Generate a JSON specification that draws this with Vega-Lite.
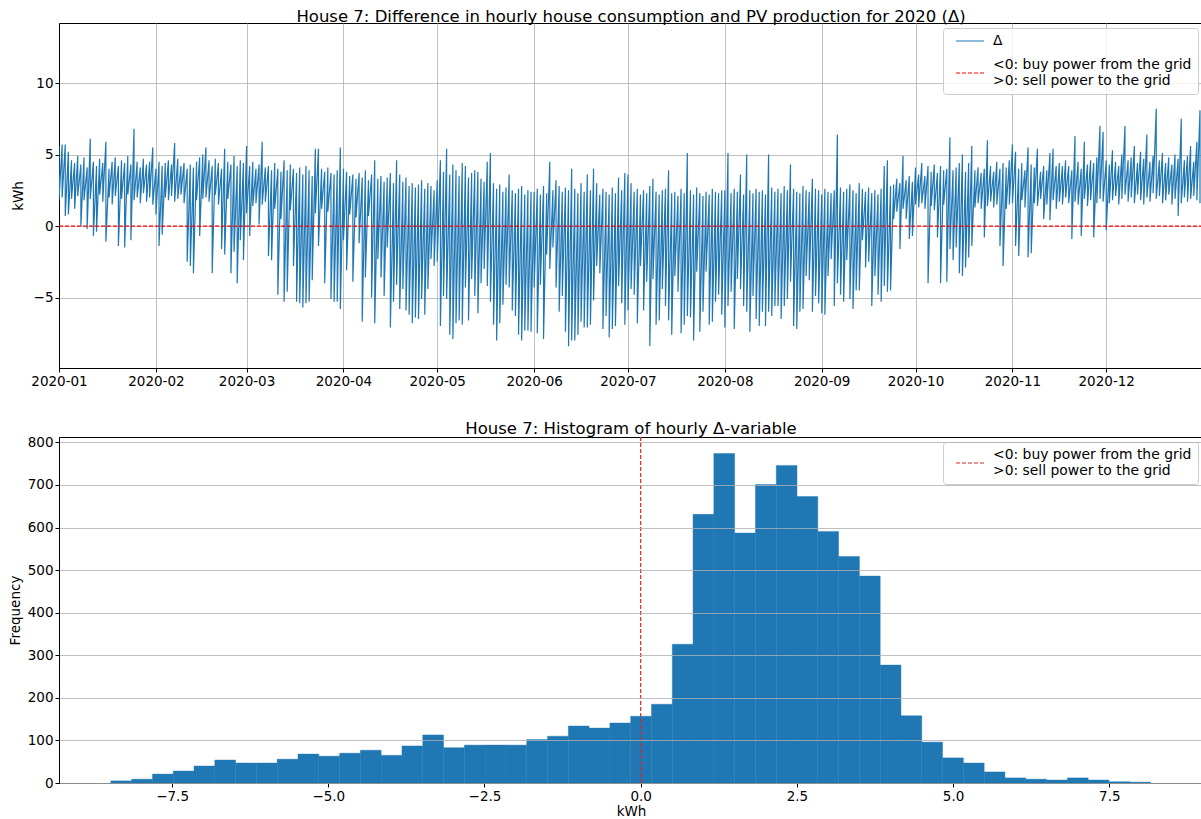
{
"$schema": "https://vega.github.io/schema/vega-lite/v6.json",
"background": "white",
"padding": {"left": 7, "top": 8, "right": 0, "bottom": 0},
"spacing": 69,
"bounds": "flush",
"resolve": {"scale": {"color": "independent"}, "legend": {"color": "independent"}},
"vconcat": [
{
"width": 1144, "height": 345,
"title": {"text": "House 7: Difference in hourly house consumption and PV production for 2020 (Δ)"},
"layer": [
{
"data": {"values": [
{"d":"2020/01/01","h":5.6,"l":1.8},{"d":"2020/01/02","h":5.7,"l":2.0},{"d":"2020/01/03","h":5.7,"l":0.7},{"d":"2020/01/04","h":5.2,"l":0.8},{"d":"2020/01/05","h":4.6,"l":1.9},{"d":"2020/01/06","h":4.4,"l":1.2},{"d":"2020/01/07","h":4.9,"l":2.1},{"d":"2020/01/08","h":4.3,"l":0.0},{"d":"2020/01/09","h":4.8,"l":1.8},{"d":"2020/01/10","h":4.1,"l":-0.2},{"d":"2020/01/11","h":6.1,"l":1.9},{"d":"2020/01/12","h":4.5,"l":-0.7},{"d":"2020/01/13","h":4.2,"l":-0.4},{"d":"2020/01/14","h":4.7,"l":2.2},{"d":"2020/01/15","h":4.4,"l":1.7},{"d":"2020/01/16","h":5.9,"l":-1.1},{"d":"2020/01/17","h":4.0,"l":2.0},{"d":"2020/01/18","h":4.5,"l":1.5},{"d":"2020/01/19","h":4.8,"l":2.1},{"d":"2020/01/20","h":4.2,"l":-1.4},{"d":"2020/01/21","h":4.6,"l":1.9},{"d":"2020/01/22","h":4.4,"l":-1.5},{"d":"2020/01/23","h":4.9,"l":2.2},{"d":"2020/01/24","h":4.3,"l":-1.0},{"d":"2020/01/25","h":6.8,"l":1.8},{"d":"2020/01/26","h":4.5,"l":2.0},{"d":"2020/01/27","h":4.1,"l":1.6},{"d":"2020/01/28","h":4.7,"l":2.3},{"d":"2020/01/29","h":4.3,"l":1.7},{"d":"2020/01/30","h":4.5,"l":2.0},{"d":"2020/01/31","h":5.5,"l":1.5},
{"d":"2020/02/01","h":4.0,"l":0.8},{"d":"2020/02/02","h":4.5,"l":-1.4},{"d":"2020/02/03","h":4.2,"l":-0.6},{"d":"2020/02/04","h":4.4,"l":2.0},{"d":"2020/02/05","h":4.6,"l":1.8},{"d":"2020/02/06","h":4.3,"l":2.1},{"d":"2020/02/07","h":5.8,"l":1.7},{"d":"2020/02/08","h":4.7,"l":1.9},{"d":"2020/02/09","h":4.2,"l":2.2},{"d":"2020/02/10","h":4.4,"l":1.6},{"d":"2020/02/11","h":4.0,"l":-2.5},{"d":"2020/02/12","h":4.3,"l":-2.8},{"d":"2020/02/13","h":4.1,"l":-3.3},{"d":"2020/02/14","h":4.5,"l":1.8},{"d":"2020/02/15","h":4.8,"l":-0.7},{"d":"2020/02/16","h":5.0,"l":1.9},{"d":"2020/02/17","h":5.5,"l":2.0},{"d":"2020/02/18","h":4.6,"l":1.7},{"d":"2020/02/19","h":4.2,"l":-3.3},{"d":"2020/02/20","h":4.7,"l":2.2},{"d":"2020/02/21","h":4.4,"l":1.5},{"d":"2020/02/22","h":4.0,"l":-1.6},{"d":"2020/02/23","h":5.4,"l":-2.0},{"d":"2020/02/24","h":4.5,"l":1.9},{"d":"2020/02/25","h":4.3,"l":-3.3},{"d":"2020/02/26","h":4.9,"l":-1.8},{"d":"2020/02/27","h":4.2,"l":-4.0},{"d":"2020/02/28","h":4.6,"l":-1.0},{"d":"2020/02/29","h":4.4,"l":-2.4},
{"d":"2020/03/01","h":5.6,"l":0.9},{"d":"2020/03/02","h":4.2,"l":-0.7},{"d":"2020/03/03","h":4.5,"l":1.4},{"d":"2020/03/04","h":4.0,"l":1.6},{"d":"2020/03/05","h":4.3,"l":0.1},{"d":"2020/03/06","h":5.9,"l":1.5},{"d":"2020/03/07","h":4.1,"l":1.7},{"d":"2020/03/08","h":4.2,"l":-2.1},{"d":"2020/03/09","h":3.9,"l":-2.4},{"d":"2020/03/10","h":4.4,"l":1.2},{"d":"2020/03/11","h":4.0,"l":-4.8},{"d":"2020/03/12","h":3.8,"l":0.5},{"d":"2020/03/13","h":4.6,"l":-5.3},{"d":"2020/03/14","h":3.9,"l":-4.6},{"d":"2020/03/15","h":4.3,"l":1.1},{"d":"2020/03/16","h":4.0,"l":-2.8},{"d":"2020/03/17","h":3.7,"l":-5.3},{"d":"2020/03/18","h":4.1,"l":-5.4},{"d":"2020/03/19","h":3.6,"l":-5.7},{"d":"2020/03/20","h":4.2,"l":-5.4},{"d":"2020/03/21","h":3.9,"l":-5.3},{"d":"2020/03/22","h":3.5,"l":-3.8},{"d":"2020/03/23","h":5.4,"l":0.9},{"d":"2020/03/24","h":5.4,"l":-1.4},{"d":"2020/03/25","h":4.0,"l":1.2},{"d":"2020/03/26","h":3.8,"l":-4.0},{"d":"2020/03/27","h":4.1,"l":1.0},{"d":"2020/03/28","h":3.7,"l":-5.1},{"d":"2020/03/29","h":3.6,"l":-5.3},{"d":"2020/03/30","h":3.9,"l":-5.3},{"d":"2020/03/31","h":5.5,"l":-5.8},
{"d":"2020/04/01","h":4.0,"l":-1.0},{"d":"2020/04/02","h":3.8,"l":-3.1},{"d":"2020/04/03","h":3.5,"l":0.8},{"d":"2020/04/04","h":3.6,"l":-3.9},{"d":"2020/04/05","h":3.3,"l":0.6},{"d":"2020/04/06","h":3.7,"l":-1.2},{"d":"2020/04/07","h":3.4,"l":-6.7},{"d":"2020/04/08","h":3.9,"l":-3.6},{"d":"2020/04/09","h":3.2,"l":0.7},{"d":"2020/04/10","h":3.6,"l":-5.0},{"d":"2020/04/11","h":4.6,"l":-6.8},{"d":"2020/04/12","h":3.3,"l":-2.3},{"d":"2020/04/13","h":3.5,"l":-3.6},{"d":"2020/04/14","h":3.1,"l":-4.9},{"d":"2020/04/15","h":3.4,"l":-1.5},{"d":"2020/04/16","h":3.7,"l":-7.1},{"d":"2020/04/17","h":3.0,"l":-5.3},{"d":"2020/04/18","h":4.6,"l":-4.1},{"d":"2020/04/19","h":3.6,"l":-5.8},{"d":"2020/04/20","h":3.1,"l":-4.4},{"d":"2020/04/21","h":3.4,"l":-5.9},{"d":"2020/04/22","h":2.8,"l":-6.2},{"d":"2020/04/23","h":3.0,"l":-6.8},{"d":"2020/04/24","h":2.7,"l":-6.4},{"d":"2020/04/25","h":2.9,"l":-6.5},{"d":"2020/04/26","h":3.2,"l":-5.1},{"d":"2020/04/27","h":2.6,"l":-6.2},{"d":"2020/04/28","h":3.0,"l":-4.4},{"d":"2020/04/29","h":2.8,"l":-2.3},{"d":"2020/04/30","h":2.5,"l":-2.8},
{"d":"2020/05/01","h":3.2,"l":-2.5},{"d":"2020/05/02","h":4.6,"l":-7.0},{"d":"2020/05/03","h":3.8,"l":-4.9},{"d":"2020/05/04","h":5.4,"l":-5.1},{"d":"2020/05/05","h":3.6,"l":-7.6},{"d":"2020/05/06","h":4.3,"l":-7.9},{"d":"2020/05/07","h":3.9,"l":-6.8},{"d":"2020/05/08","h":3.5,"l":-6.6},{"d":"2020/05/09","h":4.4,"l":-6.9},{"d":"2020/05/10","h":4.2,"l":-4.3},{"d":"2020/05/11","h":3.4,"l":-6.6},{"d":"2020/05/12","h":3.7,"l":-3.7},{"d":"2020/05/13","h":3.9,"l":-4.9},{"d":"2020/05/14","h":3.8,"l":-6.1},{"d":"2020/05/15","h":3.3,"l":-4.0},{"d":"2020/05/16","h":3.1,"l":-3.0},{"d":"2020/05/17","h":4.5,"l":-4.2},{"d":"2020/05/18","h":5.1,"l":-5.3},{"d":"2020/05/19","h":3.0,"l":-6.9},{"d":"2020/05/20","h":2.6,"l":-8.0},{"d":"2020/05/21","h":2.9,"l":-6.8},{"d":"2020/05/22","h":2.4,"l":-5.5},{"d":"2020/05/23","h":2.7,"l":-4.1},{"d":"2020/05/24","h":3.6,"l":-4.3},{"d":"2020/05/25","h":2.5,"l":-5.9},{"d":"2020/05/26","h":2.3,"l":-6.3},{"d":"2020/05/27","h":2.6,"l":-7.6},{"d":"2020/05/28","h":2.8,"l":-8.0},{"d":"2020/05/29","h":2.2,"l":-7.3},{"d":"2020/05/30","h":2.5,"l":-7.3},{"d":"2020/05/31","h":2.4,"l":-7.4},
{"d":"2020/06/01","h":2.4,"l":-4.3},{"d":"2020/06/02","h":2.6,"l":-7.5},{"d":"2020/06/03","h":2.2,"l":-4.1},{"d":"2020/06/04","h":2.8,"l":-7.9},{"d":"2020/06/05","h":2.3,"l":-2.0},{"d":"2020/06/06","h":4.5,"l":-3.0},{"d":"2020/06/07","h":2.5,"l":-1.5},{"d":"2020/06/08","h":3.2,"l":-4.3},{"d":"2020/06/09","h":2.8,"l":-6.0},{"d":"2020/06/10","h":2.4,"l":-4.9},{"d":"2020/06/11","h":2.7,"l":-7.4},{"d":"2020/06/12","h":2.5,"l":-8.4},{"d":"2020/06/13","h":4.0,"l":-8.0},{"d":"2020/06/14","h":2.6,"l":-8.0},{"d":"2020/06/15","h":2.3,"l":-7.6},{"d":"2020/06/16","h":3.0,"l":-6.7},{"d":"2020/06/17","h":2.4,"l":-7.1},{"d":"2020/06/18","h":3.6,"l":-7.1},{"d":"2020/06/19","h":2.5,"l":-6.9},{"d":"2020/06/20","h":4.0,"l":-5.2},{"d":"2020/06/21","h":3.0,"l":-2.8},{"d":"2020/06/22","h":2.2,"l":-3.3},{"d":"2020/06/23","h":2.6,"l":-7.2},{"d":"2020/06/24","h":2.4,"l":-6.3},{"d":"2020/06/25","h":2.2,"l":-7.8},{"d":"2020/06/26","h":2.7,"l":-7.2},{"d":"2020/06/27","h":2.3,"l":-7.0},{"d":"2020/06/28","h":3.4,"l":-4.2},{"d":"2020/06/29","h":2.5,"l":-5.4},{"d":"2020/06/30","h":3.7,"l":-6.9},
{"d":"2020/07/01","h":3.6,"l":-5.9},{"d":"2020/07/02","h":3.0,"l":-4.4},{"d":"2020/07/03","h":2.4,"l":-4.8},{"d":"2020/07/04","h":2.6,"l":-6.8},{"d":"2020/07/05","h":2.2,"l":-2.8},{"d":"2020/07/06","h":2.5,"l":-5.9},{"d":"2020/07/07","h":2.3,"l":-3.9},{"d":"2020/07/08","h":2.8,"l":-8.4},{"d":"2020/07/09","h":3.3,"l":-3.7},{"d":"2020/07/10","h":2.4,"l":-6.9},{"d":"2020/07/11","h":2.2,"l":-6.6},{"d":"2020/07/12","h":2.5,"l":-4.4},{"d":"2020/07/13","h":2.6,"l":-5.6},{"d":"2020/07/14","h":3.9,"l":-6.6},{"d":"2020/07/15","h":2.3,"l":-7.6},{"d":"2020/07/16","h":2.4,"l":-3.5},{"d":"2020/07/17","h":2.1,"l":-4.6},{"d":"2020/07/18","h":2.6,"l":-7.5},{"d":"2020/07/19","h":2.3,"l":-6.9},{"d":"2020/07/20","h":5.1,"l":-6.3},{"d":"2020/07/21","h":2.5,"l":-6.4},{"d":"2020/07/22","h":2.2,"l":-8.0},{"d":"2020/07/23","h":2.7,"l":-3.2},{"d":"2020/07/24","h":2.3,"l":-7.4},{"d":"2020/07/25","h":2.1,"l":-6.0},{"d":"2020/07/26","h":2.4,"l":-3.2},{"d":"2020/07/27","h":2.2,"l":-6.9},{"d":"2020/07/28","h":2.6,"l":-6.7},{"d":"2020/07/29","h":2.4,"l":-5.3},{"d":"2020/07/30","h":2.3,"l":-4.8},{"d":"2020/07/31","h":2.5,"l":-6.2},
{"d":"2020/08/01","h":2.5,"l":-7.1},{"d":"2020/08/02","h":5.1,"l":-5.6},{"d":"2020/08/03","h":2.3,"l":-4.6},{"d":"2020/08/04","h":2.6,"l":-7.2},{"d":"2020/08/05","h":2.4,"l":-3.7},{"d":"2020/08/06","h":3.6,"l":-4.4},{"d":"2020/08/07","h":2.2,"l":-5.6},{"d":"2020/08/08","h":5.0,"l":-6.0},{"d":"2020/08/09","h":2.5,"l":-7.4},{"d":"2020/08/10","h":2.3,"l":-4.9},{"d":"2020/08/11","h":2.6,"l":-6.5},{"d":"2020/08/12","h":2.4,"l":-7.0},{"d":"2020/08/13","h":2.5,"l":-6.0},{"d":"2020/08/14","h":2.2,"l":-7.0},{"d":"2020/08/15","h":5.0,"l":-6.0},{"d":"2020/08/16","h":2.7,"l":-6.3},{"d":"2020/08/17","h":2.4,"l":-5.6},{"d":"2020/08/18","h":2.6,"l":-5.6},{"d":"2020/08/19","h":2.3,"l":-6.5},{"d":"2020/08/20","h":2.8,"l":-5.6},{"d":"2020/08/21","h":2.5,"l":-5.1},{"d":"2020/08/22","h":4.3,"l":-3.9},{"d":"2020/08/23","h":2.6,"l":-7.0},{"d":"2020/08/24","h":2.4,"l":-7.2},{"d":"2020/08/25","h":2.3,"l":-6.0},{"d":"2020/08/26","h":2.8,"l":-5.8},{"d":"2020/08/27","h":2.5,"l":-3.5},{"d":"2020/08/28","h":2.4,"l":-3.8},{"d":"2020/08/29","h":3.3,"l":-6.0},{"d":"2020/08/30","h":2.6,"l":-4.9},{"d":"2020/08/31","h":2.5,"l":-5.4},
{"d":"2020/09/01","h":2.2,"l":-6.1},{"d":"2020/09/02","h":2.6,"l":-6.2},{"d":"2020/09/03","h":2.4,"l":-3.5},{"d":"2020/09/04","h":2.3,"l":-2.3},{"d":"2020/09/05","h":2.5,"l":-5.6},{"d":"2020/09/06","h":6.4,"l":-4.0},{"d":"2020/09/07","h":2.7,"l":-4.8},{"d":"2020/09/08","h":2.4,"l":-5.3},{"d":"2020/09/09","h":2.6,"l":-2.4},{"d":"2020/09/10","h":2.9,"l":-5.1},{"d":"2020/09/11","h":2.5,"l":-5.8},{"d":"2020/09/12","h":2.3,"l":-4.5},{"d":"2020/09/13","h":3.0,"l":-4.5},{"d":"2020/09/14","h":2.6,"l":-1.0},{"d":"2020/09/15","h":2.4,"l":-2.9},{"d":"2020/09/16","h":2.7,"l":-2.5},{"d":"2020/09/17","h":2.3,"l":-5.6},{"d":"2020/09/18","h":2.5,"l":-3.5},{"d":"2020/09/19","h":2.2,"l":-4.8},{"d":"2020/09/20","h":2.6,"l":-5.3},{"d":"2020/09/21","h":4.2,"l":-4.2},{"d":"2020/09/22","h":4.6,"l":-4.6},{"d":"2020/09/23","h":2.8,"l":-4.5},{"d":"2020/09/24","h":2.9,"l":0.5},{"d":"2020/09/25","h":3.3,"l":1.0},{"d":"2020/09/26","h":3.0,"l":-1.6},{"d":"2020/09/27","h":4.9,"l":1.2},{"d":"2020/09/28","h":3.2,"l":0.5},{"d":"2020/09/29","h":3.5,"l":-0.9},{"d":"2020/09/30","h":3.1,"l":-0.7},
{"d":"2020/10/01","h":4.1,"l":1.5},{"d":"2020/10/02","h":3.6,"l":1.3},{"d":"2020/10/03","h":4.4,"l":1.6},{"d":"2020/10/04","h":3.5,"l":1.2},{"d":"2020/10/05","h":4.2,"l":-4.0},{"d":"2020/10/06","h":3.8,"l":1.4},{"d":"2020/10/07","h":4.3,"l":1.1},{"d":"2020/10/08","h":3.7,"l":-0.8},{"d":"2020/10/09","h":4.2,"l":-4.0},{"d":"2020/10/10","h":3.9,"l":1.5},{"d":"2020/10/11","h":4.0,"l":-3.9},{"d":"2020/10/12","h":6.2,"l":-1.6},{"d":"2020/10/13","h":3.9,"l":-2.4},{"d":"2020/10/14","h":4.1,"l":-1.5},{"d":"2020/10/15","h":4.4,"l":-3.3},{"d":"2020/10/16","h":5.0,"l":-3.5},{"d":"2020/10/17","h":3.8,"l":-2.9},{"d":"2020/10/18","h":4.4,"l":-2.2},{"d":"2020/10/19","h":5.6,"l":-1.4},{"d":"2020/10/20","h":3.9,"l":1.3},{"d":"2020/10/21","h":4.1,"l":1.6},{"d":"2020/10/22","h":3.7,"l":1.2},{"d":"2020/10/23","h":4.0,"l":-0.8},{"d":"2020/10/24","h":6.0,"l":1.4},{"d":"2020/10/25","h":4.2,"l":1.7},{"d":"2020/10/26","h":3.8,"l":1.3},{"d":"2020/10/27","h":4.5,"l":1.5},{"d":"2020/10/28","h":4.0,"l":-1.4},{"d":"2020/10/29","h":4.4,"l":-2.8},{"d":"2020/10/30","h":4.1,"l":1.2},{"d":"2020/10/31","h":4.6,"l":1.5},
{"d":"2020/11/01","h":5.7,"l":1.6},{"d":"2020/11/02","h":5.2,"l":-1.4},{"d":"2020/11/03","h":4.0,"l":-2.1},{"d":"2020/11/04","h":4.4,"l":1.8},{"d":"2020/11/05","h":3.9,"l":1.3},{"d":"2020/11/06","h":5.5,"l":-2.2},{"d":"2020/11/07","h":4.3,"l":-1.9},{"d":"2020/11/08","h":4.1,"l":1.6},{"d":"2020/11/09","h":5.4,"l":1.4},{"d":"2020/11/10","h":3.8,"l":1.9},{"d":"2020/11/11","h":4.2,"l":0.5},{"d":"2020/11/12","h":3.9,"l":1.5},{"d":"2020/11/13","h":5.1,"l":0.4},{"d":"2020/11/14","h":5.4,"l":1.8},{"d":"2020/11/15","h":4.2,"l":1.2},{"d":"2020/11/16","h":4.4,"l":1.7},{"d":"2020/11/17","h":4.2,"l":1.5},{"d":"2020/11/18","h":4.6,"l":2.0},{"d":"2020/11/19","h":4.2,"l":1.6},{"d":"2020/11/20","h":3.9,"l":-0.9},{"d":"2020/11/21","h":6.3,"l":1.7},{"d":"2020/11/22","h":4.5,"l":1.5},{"d":"2020/11/23","h":4.0,"l":-0.7},{"d":"2020/11/24","h":5.9,"l":1.9},{"d":"2020/11/25","h":4.3,"l":1.4},{"d":"2020/11/26","h":4.6,"l":1.8},{"d":"2020/11/27","h":4.4,"l":-0.8},{"d":"2020/11/28","h":4.8,"l":1.6},{"d":"2020/11/29","h":7.0,"l":1.9},{"d":"2020/11/30","h":6.6,"l":1.7},
{"d":"2020/12/01","h":4.6,"l":-0.3},{"d":"2020/12/02","h":4.3,"l":1.6},{"d":"2020/12/03","h":5.3,"l":1.8},{"d":"2020/12/04","h":4.5,"l":2.1},{"d":"2020/12/05","h":4.2,"l":1.5},{"d":"2020/12/06","h":5.0,"l":1.9},{"d":"2020/12/07","h":7.0,"l":2.2},{"d":"2020/12/08","h":4.6,"l":1.7},{"d":"2020/12/09","h":4.8,"l":2.0},{"d":"2020/12/10","h":5.6,"l":1.6},{"d":"2020/12/11","h":4.4,"l":2.2},{"d":"2020/12/12","h":5.2,"l":1.8},{"d":"2020/12/13","h":4.7,"l":1.5},{"d":"2020/12/14","h":6.4,"l":2.0},{"d":"2020/12/15","h":4.5,"l":1.7},{"d":"2020/12/16","h":4.9,"l":2.3},{"d":"2020/12/17","h":8.2,"l":1.9},{"d":"2020/12/18","h":4.6,"l":2.1},{"d":"2020/12/19","h":5.1,"l":1.6},{"d":"2020/12/20","h":4.4,"l":1.8},{"d":"2020/12/21","h":4.8,"l":2.2},{"d":"2020/12/22","h":4.3,"l":1.5},{"d":"2020/12/23","h":5.0,"l":1.9},{"d":"2020/12/24","h":4.7,"l":0.7},{"d":"2020/12/25","h":7.5,"l":1.6},{"d":"2020/12/26","h":4.6,"l":2.0},{"d":"2020/12/27","h":4.9,"l":1.7},{"d":"2020/12/28","h":5.6,"l":1.9},{"d":"2020/12/29","h":4.5,"l":2.1},{"d":"2020/12/30","h":5.9,"l":1.8},{"d":"2020/12/31","h":8.1,"l":1.6}
]},
"transform": [{"fold": ["h", "l"], "as": ["k", "v"]}],
"mark": {"type": "line", "strokeWidth": 1.2, "clip": true},
"encoding": {
"x": {"field": "d", "type": "temporal",
"scale": {"domain": [{"year": 2020, "month": 1, "date": 1}, {"year": 2020, "month": 12, "date": 31, "hours": 23}]},
"axis": {"title": null, "format": "%Y-%m", "grid": true, "labelAngle": 0,
"values": [{"year":2020,"month":1,"date":1},{"year":2020,"month":2,"date":1},{"year":2020,"month":3,"date":1},{"year":2020,"month":4,"date":1},{"year":2020,"month":5,"date":1},{"year":2020,"month":6,"date":1},{"year":2020,"month":7,"date":1},{"year":2020,"month":8,"date":1},{"year":2020,"month":9,"date":1},{"year":2020,"month":10,"date":1},{"year":2020,"month":11,"date":1},{"year":2020,"month":12,"date":1}]}},
"y": {"field": "v", "type": "quantitative", "scale": {"domain": [-9.93, 14.2], "nice": false, "zero": false},
"axis": {"title": "kWh", "values": [-5, 0, 5, 10], "grid": true, "titlePadding": 8}},
"order": [{"field": "d", "type": "temporal"}, {"field": "k"}],
"color": {"datum": "Δ",
"scale": {"domain": ["Δ", "<0: buy power from the grid|>0: sell power to the grid"], "range": ["#1f77b4", "#ff0000"]},
"legend": {"title": null, "orient": "top-right", "labelExpr": "split(datum.label, '|')", "rowPadding": 10,
"encode": {
"symbols": {"update": {
"size": {"value": 784},
"y": {"signal": "datum.value == 'Δ' ? 7 : 15"},
"stroke": {"signal": "datum.value == 'Δ' ? '#1f77b4' : '#ff0000'"},
"strokeDash": {"signal": "datum.value == 'Δ' ? [1, 0] : [4, 2]"}}},
"labels": {"update": {"y": {"value": 7}}}}}}
}
},
{
"data": {"values": [{}]},
"mark": {"type": "rule", "strokeDash": [4, 2], "strokeWidth": 1.2},
"encoding": {"y": {"datum": 0}, "color": {"datum": "<0: buy power from the grid|>0: sell power to the grid"}}
}
]
},
{
"width": 1144, "height": 346,
"title": {"text": "House 7: Histogram of hourly Δ-variable"},
"layer": [
{
"data": {"values": [
{"a":-8.48,"b":-8.147,"n":5},{"a":-8.147,"b":-7.814,"n":9},{"a":-7.814,"b":-7.482,"n":21},{"a":-7.482,"b":-7.149,"n":28},{"a":-7.149,"b":-6.816,"n":40},{"a":-6.816,"b":-6.483,"n":54},{"a":-6.483,"b":-6.15,"n":47},{"a":-6.15,"b":-5.818,"n":47},{"a":-5.818,"b":-5.485,"n":56},{"a":-5.485,"b":-5.152,"n":68},{"a":-5.152,"b":-4.819,"n":63},{"a":-4.819,"b":-4.486,"n":70},{"a":-4.486,"b":-4.154,"n":77},{"a":-4.154,"b":-3.821,"n":65},{"a":-3.821,"b":-3.488,"n":87},{"a":-3.488,"b":-3.155,"n":113},{"a":-3.155,"b":-2.822,"n":83},{"a":-2.822,"b":-2.49,"n":89},{"a":-2.49,"b":-2.157,"n":89},{"a":-2.157,"b":-1.824,"n":89},{"a":-1.824,"b":-1.491,"n":102},{"a":-1.491,"b":-1.158,"n":110},{"a":-1.158,"b":-0.826,"n":134},{"a":-0.826,"b":-0.493,"n":129},{"a":-0.493,"b":-0.16,"n":141},{"a":-0.16,"b":0.173,"n":157},{"a":0.173,"b":0.506,"n":185},{"a":0.506,"b":0.838,"n":326},{"a":0.838,"b":1.171,"n":631},{"a":1.171,"b":1.504,"n":774},{"a":1.504,"b":1.837,"n":587},{"a":1.837,"b":2.17,"n":701},{"a":2.17,"b":2.502,"n":746},{"a":2.502,"b":2.835,"n":673},{"a":2.835,"b":3.168,"n":591},{"a":3.168,"b":3.501,"n":532},{"a":3.501,"b":3.834,"n":486},{"a":3.834,"b":4.166,"n":277},{"a":4.166,"b":4.499,"n":158},{"a":4.499,"b":4.832,"n":96},{"a":4.832,"b":5.165,"n":59},{"a":5.165,"b":5.498,"n":47},{"a":5.498,"b":5.83,"n":26},{"a":5.83,"b":6.163,"n":12},{"a":6.163,"b":6.496,"n":9},{"a":6.496,"b":6.829,"n":7},{"a":6.829,"b":7.162,"n":12},{"a":7.162,"b":7.494,"n":7},{"a":7.494,"b":7.827,"n":3},{"a":7.827,"b":8.16,"n":2}
]},
"mark": {"type": "rect", "color": "#1f77b4", "stroke": "#1f77b4", "strokeWidth": 0.4},
"encoding": {
"x": {"field": "a", "type": "quantitative", "scale": {"domain": [-9.31, 9.0], "nice": false, "zero": false},
"axis": {"title": "kWh", "values": [-7.5, -5, -2.5, 0, 2.5, 5, 7.5], "format": ".1f", "grid": false, "titlePadding": 2}},
"x2": {"field": "b"},
"y": {"field": "n", "type": "quantitative", "scale": {"domain": [0, 812.7], "nice": false},
"axis": {"title": "Frequency", "values": [0, 100, 200, 300, 400, 500, 600, 700, 800], "grid": true, "zindex": 1, "titlePadding": 5}},
"y2": {"datum": 0}
}
},
{
"data": {"values": [{}]},
"mark": {"type": "rule", "strokeDash": [4, 2], "strokeWidth": 1.2},
"encoding": {"x": {"datum": 0},
"color": {"datum": "<0: buy power from the grid|>0: sell power to the grid",
"scale": {"domain": ["<0: buy power from the grid|>0: sell power to the grid"], "range": ["#d62728"]},
"legend": {"title": null, "orient": "top-right", "labelExpr": "split(datum.label, '|')",
"encode": {
"symbols": {"update": {"size": {"value": 784}, "y": {"value": 15}, "stroke": {"value": "#d62728"}, "strokeDash": {"value": [4, 2]}}},
"labels": {"update": {"y": {"value": 7}}}}}}}
}
]
}
],
"config": {
"font": "DejaVu Sans",
"view": {"stroke": "black", "strokeWidth": 1},
"title": {"font": "DejaVu Sans", "fontSize": 16.5, "fontWeight": "normal", "color": "black", "offset": -2},
"axis": {"labelFont": "DejaVu Sans", "titleFont": "DejaVu Sans", "labelFontSize": 13.5, "titleFontSize": 13.5, "titleFontWeight": "normal", "labelColor": "black", "titleColor": "black", "tickColor": "black", "domainColor": "black", "tickSize": 4, "labelPadding": 2, "gridColor": "#b0b0b0", "gridWidth": 0.8, "gridOpacity": 1, "labelOverlap": false, "labelFlush": false},
"legend": {"labelFont": "DejaVu Sans", "labelFontSize": 13.9, "labelColor": "black", "symbolType": "stroke", "symbolSize": 200, "symbolOffset": 6, "symbolStrokeWidth": 1.2, "fillColor": "rgba(255,255,255,0.8)", "strokeColor": "#cccccc", "cornerRadius": 3, "padding": 6, "offset": 5, "rowPadding": 6, "labelOffset": 8, "labelLimit": 400}
}
}
